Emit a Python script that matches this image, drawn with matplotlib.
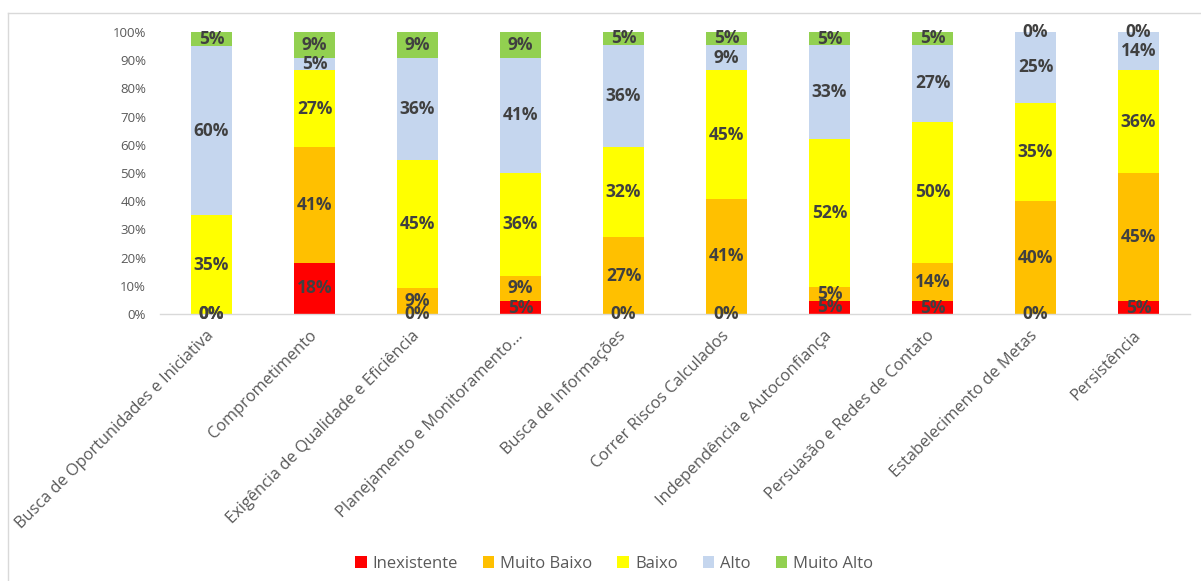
import matplotlib
matplotlib.use("Agg")
import matplotlib.pyplot as plt
from matplotlib.lines import Line2D

plt.rcParams['font.family'] = ['Open Sans', 'DejaVu Sans']

categories = [
    "Busca de Oportunidades e Iniciativa",
    "Comprometimento",
    "Exigência de Qualidade e Eficiência",
    "Planejamento e Monitoramento...",
    "Busca de Informações",
    "Correr Riscos Calculados",
    "Independência e Autoconfiança",
    "Persuasão e Redes de Contato",
    "Estabelecimento de Metas",
    "Persistência",
]

series_names = ["Inexistente", "Muito Baixo", "Baixo", "Alto", "Muito Alto"]

inexistente = [0, 18.18, 0, 4.55, 0, 0, 4.76, 4.55, 0, 4.55]
muito_baixo = [0, 40.91, 9.09, 9.09, 27.27, 40.91, 4.76, 13.64, 40, 45.45]
baixo = [35, 27.27, 45.45, 36.36, 31.82, 45.45, 52.38, 50.0, 35, 36.36]
alto = [60, 4.55, 36.36, 40.91, 36.36, 9.09, 33.33, 27.27, 25, 13.64]
muito_alto = [5, 9.09, 9.09, 9.09, 4.55, 4.55, 4.76, 4.55, 0, 0]

series_values = [inexistente, muito_baixo, baixo, alto, muito_alto]
colors = ["#FF0000", "#FFC000", "#FFFF00", "#C5D6EE", "#92D050"]

y_ticks = list(range(0, 101, 10))
y_tick_labels = [f"{t}%" for t in y_ticks]

fig = plt.figure(figsize=(12.01, 5.81), dpi=100)
W, H = 1201, 581
ax = fig.add_axes([160 / W, 1 - 314 / H, (1190 - 160) / W, (314 - 32) / H])

x = list(range(len(categories)))
bottom = [0.0] * len(categories)
for name, vals, col in zip(series_names, series_values, colors):
    bars = ax.bar(x, vals, width=0.39, bottom=bottom, color=col, label=name,
                  zorder=2)
    ax.bar_label(bars, labels=[f"{v:.0f}%" for v in vals], label_type='center',
                 fontsize=12.5, fontweight='bold', color='#404040', zorder=3)
    bottom = [b + v for b, v in zip(bottom, vals)]

ax.set_xlim(-0.5, len(categories) - 0.5)
ax.set_ylim(0, 100)
ax.set_yticks(y_ticks)
ax.set_yticklabels(y_tick_labels, fontsize=9.5, color='#595959')
ax.set_xticks(x)
ax.set_xticklabels(categories, rotation=45, ha='right', va='center',
                   rotation_mode='anchor', fontsize=11.8, color='#595959')
ax.tick_params(axis='both', length=0)
ax.tick_params(axis='x', pad=14)
ax.tick_params(axis='y', pad=10)
for s in ['left', 'right', 'top']:
    ax.spines[s].set_visible(False)
ax.spines['bottom'].set_color('#D9D9D9')
ax.spines['bottom'].set_linewidth(1.0)

fig.legend(loc='center', bbox_to_anchor=(614 / W, 1 - 564 / H), ncol=5,
           frameon=False, fontsize=12, handlelength=0.7, handleheight=0.7,
           handletextpad=0.35, columnspacing=1.5, labelcolor='#595959')

# light chart frame on the left and top edges
fig.add_artist(Line2D([8 / W, 8 / W], [0, 1 - 13 / H], color='#D9D9D9', lw=1))
fig.add_artist(Line2D([8 / W, 1], [1 - 13 / H, 1 - 13 / H], color='#D9D9D9', lw=1))

fig.savefig("out.png", dpi=100, facecolor='white')
